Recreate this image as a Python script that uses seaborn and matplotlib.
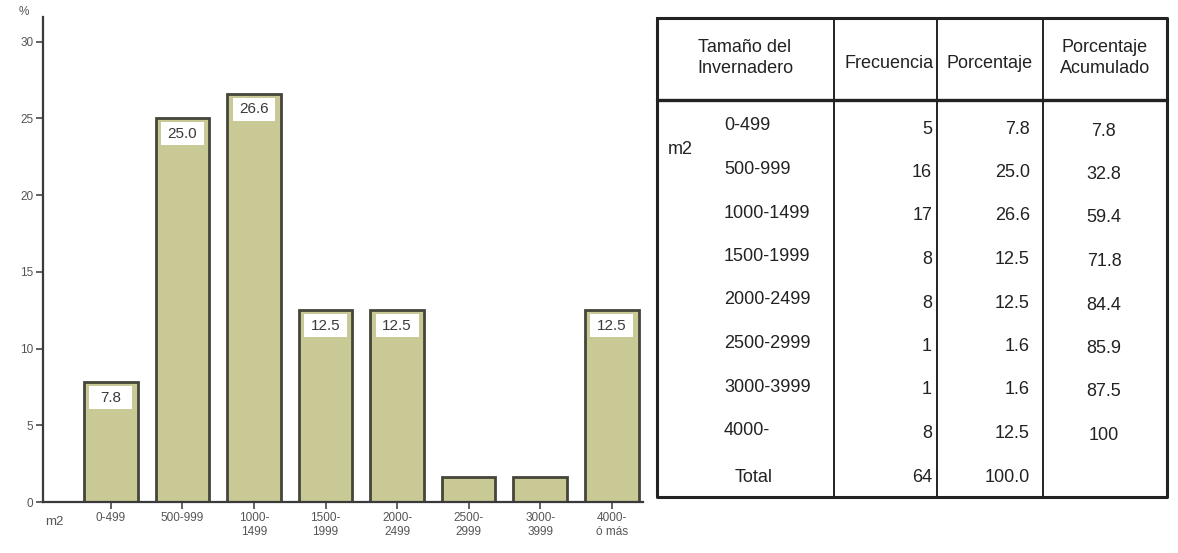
import matplotlib.pyplot as plt
import seaborn as sns
import numpy as np
import pandas as pd
from matplotlib.patches import Rectangle

# datos del gráfico
categorias = ['0-499', '500-999', '1000-\n1499', '1500-\n1999', '2000-\n2499',
              '2500-\n2999', '3000-\n3999', '4000-\nó más']
porcentaje = [7.8, 25.0, 26.6, 12.5, 12.5, 1.6, 1.6, 12.5]

# datos de la tabla
filas = ['0-499', '500-999', '1000-1499', '1500-1999', '2000-2499',
         '2500-2999', '3000-3999', '4000-']
frecuencia = [5, 16, 17, 8, 8, 1, 1, 8]
pct_tabla = ['7.8', '25.0', '26.6', '12.5', '12.5', '1.6', '1.6', '12.5']
acumulado = ['7.8', '32.8', '59.4', '71.8', '84.4', '85.9', '87.5', '100']
total_frec = 64
total_pct = '100.0'

sns.set_theme(style='white')
plt.rcParams['font.family'] = ['Liberation Sans', 'DejaVu Sans']

fig = plt.figure(figsize=(11.78, 5.53), dpi=100)

# ---- gráfico de barras ----
ax = fig.add_axes([0.0365, 0.0922, 0.5095, 0.877])
df = pd.DataFrame({'cat': categorias, 'pct': porcentaje})
sns.barplot(data=df, x='cat', y='pct', color='#c9c995', saturation=1,
            edgecolor='#45453a', linewidth=2, width=0.75, ax=ax)

ax.set_xlim(-0.95, 7.44)
ax.set_ylim(0, 31.6)
ax.set_yticks([0, 5, 10, 15, 20, 25, 30])
ax.set_xlabel('')
ax.set_ylabel('')
for s in ['top', 'right']:
    ax.spines[s].set_visible(False)
for s in ['left', 'bottom']:
    ax.spines[s].set_color('#3a3a3a')
    ax.spines[s].set_linewidth(1.6)
ax.tick_params(axis='both', which='both', direction='out', length=5, width=1.3,
               color='#555555', labelsize=8.5, labelcolor='#555555',
               left=True, bottom=True, pad=2)

# etiquetas en recuadro blanco dentro de la barra
for p, v in zip(ax.patches, porcentaje):
    if v < 5:
        continue
    xc = p.get_x() + p.get_width() / 2
    h = p.get_height()
    ax.add_patch(Rectangle((xc - 0.3, h - 1.75), 0.6, 1.5, fc='white', ec='none', zorder=5))
    ax.text(xc, h - 1.0, f'{v:.1f}', ha='center', va='center', fontsize=11,
            color='#3a3a3a', zorder=6)

fig.text(0.016, 0.978, '%', fontsize=8.5, color='#555555', ha='left', va='center')
fig.text(0.038, 0.056, 'm2', fontsize=9.5, color='#555555', ha='left', va='center')

# ---- tabla ----
tx = fig.add_axes([0, 0, 1, 1])
tx.set_xlim(0, 1178)
tx.set_ylim(553, 0)
tx.axis('off')

fam = ['Liberation Sans', 'DejaVu Sans']
fs = 13
tc = '#222222'

left, right, top, bottom = 657, 1167, 18, 497
col_x = [834, 937, 1043]
head_y = 100
tx.plot([left, right, right, left, left], [top, top, bottom, bottom, top],
        color='#222222', lw=2.2)
for cx in col_x:
    tx.plot([cx, cx], [top, bottom], color='#222222', lw=1.4)
tx.plot([left, right], [head_y, head_y], color='#222222', lw=2.4)

tx.text(745, 58, 'Tamaño del\nInvernadero', family=fam, fontsize=fs, color=tc,
        ha='center', va='center', linespacing=1.25)
tx.text(889, 63, 'Frecuencia', family=fam, fontsize=fs, color=tc, ha='center', va='center')
tx.text(990, 63, 'Porcentaje', family=fam, fontsize=fs, color=tc, ha='center', va='center')
tx.text(1105, 58, 'Porcentaje\nAcumulado', family=fam, fontsize=fs, color=tc,
        ha='center', va='center', linespacing=1.25)

tx.text(668, 150, 'm2', family=fam, fontsize=fs, color=tc, ha='left', va='center')

y0, dy = 126, 43.5
for i in range(len(filas)):
    y = y0 + i * dy
    tx.text(724, y, filas[i], family=fam, fontsize=fs, color=tc, ha='left', va='center')
    tx.text(932, y + 3, str(frecuencia[i]), family=fam, fontsize=fs, color=tc, ha='right', va='center')
    tx.text(1030, y + 3, pct_tabla[i], family=fam, fontsize=fs, color=tc, ha='right', va='center')
    tx.text(1104, y + 5, acumulado[i], family=fam, fontsize=fs, color=tc, ha='center', va='center')

yt = y0 + len(filas) * dy + 4
tx.text(754, yt, 'Total', family=fam, fontsize=fs, color=tc, ha='center', va='center')
tx.text(932, yt, str(total_frec), family=fam, fontsize=fs, color=tc, ha='right', va='center')
tx.text(1030, yt, total_pct, family=fam, fontsize=fs, color=tc, ha='right', va='center')

fig.savefig('out.png', dpi=100)
